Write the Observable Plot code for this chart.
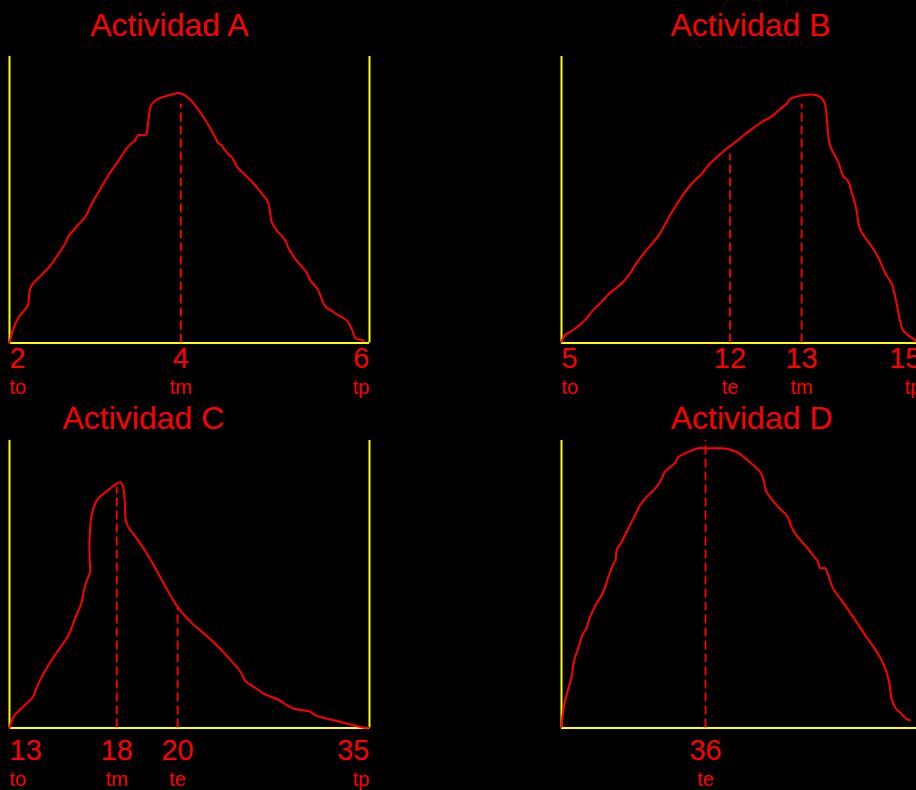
<!DOCTYPE html>
<html>
<head>
<meta charset="utf-8">
<script src="https://cdn.jsdelivr.net/npm/d3@7"></script>
<script src="https://cdn.jsdelivr.net/npm/@observablehq/plot@0.6"></script>
<style>
html, body { margin: 0; padding: 0; background: #000; width: 916px; height: 790px; overflow: hidden; }
#root { position: relative; width: 916px; height: 790px; overflow: hidden; }
#root svg { position: absolute; }
</style>
</head>
<body>
<div id="root"></div>
<script>
// ---------- DATA (u = position across the activity span, 0..100; h = relative height, 0..100) ----------
const titles = ["Actividad A", "Actividad B", "Actividad C", "Actividad D"];

// Actividad A
const aU = [0, 0.9, 2.3, 3.7, 5.1, 5.6, 6.5, 8.8, 11.4, 13.9, 15.7, 16.2, 18.5, 21.3, 22.6, 25.0, 27.7, 30.0, 32.4, 33.7, 34.8, 35.6, 36.0, 37.9, 38.4, 39.1, 39.7, 41.1, 43.0, 45.3, 46.9, 48.1, 49.5, 51.3, 53.6, 55.9, 57.6, 58.0, 58.9, 59.6, 61.0, 61.7, 63.3, 65.2, 67.9, 69.8, 71.6, 72.4, 72.7, 73.9, 76.5, 77.6, 79.0, 80.9, 82.7, 83.6, 85.5, 87.3, 88.3, 89.2, 90.6, 93.8, 95.2, 96.1, 97.5, 98.4];
const aH = [0, 4.4, 8.5, 10.8, 13.1, 18.4, 20.7, 23.6, 27.1, 31.7, 35.2, 36.9, 40.4, 44.5, 48.0, 53.2, 59.0, 63.1, 67.7, 69.5, 70.6, 72.4, 72.6, 72.7, 75.8, 82.2, 83.6, 85.1, 86.0, 86.8, 87.3, 86.9, 85.7, 83.4, 79.3, 74.7, 70.6, 69.7, 69.1, 67.7, 65.7, 65.0, 61.3, 59.0, 55.5, 52.6, 49.7, 45.6, 42.7, 39.8, 36.0, 32.9, 30.0, 27.1, 24.2, 21.8, 18.9, 13.7, 12.0, 11.6, 10.2, 7.7, 4.4, 1.7, 1.2, 0.7];
const aTickU = [0, 47.6, 100];
const aTickValue = ["2", "4", "6"];
const aTickName = ["to", "tm", "tp"];
const aMarkU = [47.6];
const aMarkH = [83.4];

// Actividad B
const bU = [0, 0.9, 2.3, 4.6, 6.9, 8.3, 10.6, 13.4, 15.3, 17.1, 19.0, 20.4, 22.2, 24.1, 25.5, 27.3, 30.1, 32.4, 33.8, 36.1, 38.9, 40.7, 43.1, 45.8, 48.6, 50.5, 53.2, 56.0, 58.3, 59.7, 61.6, 62.5, 63.4, 65.3, 67.6, 70.8, 72.2, 73.2, 73.6, 73.9, 74.3, 75.0, 76.9, 78.2, 79.6, 80.6, 81.9, 82.4, 82.9, 84.3, 86.6, 88.4, 89.8, 91.7, 93.1, 94.0, 94.9, 96.3, 97.7, 98.6];
const bH = [0.4, 2.7, 3.8, 5.8, 8.5, 10.8, 13.7, 17.4, 19.3, 21.3, 24.2, 27.1, 30.2, 33.2, 35.2, 38.1, 44.5, 49.1, 51.8, 55.5, 59.0, 61.9, 64.8, 67.7, 70.4, 72.4, 75.0, 77.4, 79.0, 80.5, 82.5, 83.4, 85.1, 86.0, 86.6, 86.5, 85.5, 83.4, 79.9, 75.3, 70.6, 67.7, 63.1, 58.4, 56.5, 52.6, 46.8, 42.7, 39.8, 36.9, 32.9, 28.8, 24.7, 20.7, 13.7, 7.9, 4.4, 2.7, 1.5, 0.4];
const bTickU = [0, 46.8, 66.7, 100];
const bTickValue = ["5", "12", "13", "15"];
const bTickName = ["to", "te", "tm", "tp"];
const bMarkU = [46.8, 66.7];
const bMarkH = [66.0, 83.4];

// Actividad C
const cU = [0, 0.5, 1.4, 3.2, 6.5, 7.4, 9.2, 11.6, 13.9, 16.6, 18.0, 19.9, 20.8, 21.5, 22.4, 22.3, 22.2, 22.4, 22.8, 23.6, 24.5, 25.9, 27.3, 28.7, 30.8, 31.4, 31.9, 32.1, 32.4, 33.3, 34.7, 37.0, 39.3, 41.6, 43.9, 46.7, 49.0, 50.8, 54.1, 57.8, 61.5, 64.2, 65.6, 67.9, 70.7, 74.4, 77.2, 79.0, 81.8, 83.6, 85.0, 88.3, 92.0, 95.7, 98.9, 99.8];
const cH = [0, 2.1, 4.4, 6.7, 10.8, 13.7, 18.3, 23.5, 27.6, 32.8, 37.4, 43.2, 48.4, 51.3, 54.2, 57.7, 63.5, 69.3, 73.9, 77.4, 79.7, 81.2, 82.6, 84.1, 85.5, 84.4, 80.9, 76.3, 71.6, 69.3, 67.0, 62.9, 58.3, 53.1, 47.9, 42.1, 38.6, 36.3, 32.8, 28.5, 23.5, 19.5, 16.2, 14.3, 11.9, 10.0, 7.9, 6.7, 6.1, 5.6, 4.4, 3.2, 2.1, 0.9, 0, 0.2];
const cTickU = [0, 29.8, 46.7, 100];
const cTickValue = ["13", "18", "20", "35"];
const cTickName = ["to", "tm", "te", "tp"];
const cMarkU = [29.8, 46.7];
const cMarkH = [83.8, 42.1];

// Actividad D
const dU = [0, 0.3, 0.9, 1.9, 2.8, 3.4, 4.6, 6.0, 6.9, 7.9, 9.7, 11.6, 13.0, 14.4, 15.0, 15.3, 16.7, 18.5, 20.4, 21.8, 23.6, 25.5, 27.3, 28.7, 30.1, 31.5, 32.4, 34.7, 38.0, 40.3, 44.0, 46.8, 49.1, 51.4, 53.2, 55.1, 56.0, 56.8, 58.3, 60.6, 62.7, 63.9, 65.3, 68.1, 69.9, 71.3, 71.8, 73.2, 74.1, 75.5, 77.8, 80.1, 82.9, 84.7, 87.0, 88.4, 89.8, 91.0, 91.7, 92.6, 94.4, 95.8, 96.8];
const dH = [0.4, 4.4, 9.0, 13.7, 17.7, 22.9, 27.6, 32.8, 34.5, 38.6, 43.2, 47.3, 52.5, 57.1, 58.3, 61.8, 64.7, 69.3, 73.9, 77.4, 80.3, 82.6, 85.5, 89.0, 90.7, 92.1, 94.2, 95.7, 97.3, 97.3, 97.3, 96.9, 95.7, 93.4, 91.5, 89.2, 86.9, 82.6, 79.7, 76.3, 73.7, 69.9, 67.0, 62.9, 60.0, 57.7, 55.6, 55.6, 53.1, 48.4, 44.4, 40.3, 35.1, 31.6, 27.6, 24.7, 21.2, 16.0, 10.2, 7.3, 5.0, 3.2, 2.7];
const dTickU = [40];
const dTickValue = ["36"];
const dTickName = ["te"];
const dMarkU = [40];
const dMarkH = [100];

// ---------- LAYOUT ----------
const RED = "#ff0000", YELLOW = "#ffff00";
const FONT = "'Liberation Sans', Arial, Helvetica, sans-serif";
const mL = 20, mR = 20, mT = 60, mB = 75, frameW = 360;

const panels = [
  {title: titles[0], U: aU, H: aH, tickU: aTickU, tickV: aTickValue, tickN: aTickName, markU: aMarkU, markH: aMarkH,
   left: 8.5, top: 56, fh: 286.5, titleU: 44.4, titleDy: -21, numDy: 25, nameDy: 51},
  {title: titles[1], U: bU, H: bH, tickU: bTickU, tickV: bTickValue, tickN: bTickName, markU: bMarkU, markH: bMarkH,
   left: 561, top: 56, fh: 286.5, titleU: 52.5, titleDy: -21, numDy: 25, nameDy: 51},
  {title: titles[2], U: cU, H: cH, tickU: cTickU, tickV: cTickValue, tickN: cTickName, markU: cMarkU, markH: cMarkH,
   left: 8.5, top: 440, fh: 287.5, titleU: 37.2, titleDy: -12, numDy: 32, nameDy: 58},
  {title: titles[3], U: dU, H: dH, tickU: dTickU, tickV: dTickValue, tickN: dTickName, markU: dMarkU, markH: dMarkH,
   left: 561, top: 440, fh: 287.5, titleU: 52.8, titleDy: -12, numDy: 32, nameDy: 58}
];

const root = document.getElementById("root");

for (const p of panels) {
  const curve = p.U.map((u, i) => ({u, h: p.H[i]}));
  const ticks = p.tickU.map((u, i) => ({u, v: p.tickV[i], n: p.tickN[i]}));
  const marks = p.markU.map((u, i) => ({u, h: p.markH[i]}));
  const startT = ticks.filter(t => t.u === 0);
  const endT = ticks.filter(t => t.u === 100);
  const midT = ticks.filter(t => t.u !== 0 && t.u !== 100);

  const labelMarks = [];
  for (const [arr, anchor] of [[startT, "start"], [midT, "middle"], [endT, "end"]]) {
    labelMarks.push(Plot.text(arr, {x: "u", y: 0, text: "v", fill: RED, fontSize: 29, textAnchor: anchor, lineAnchor: "bottom", dy: p.numDy}));
    labelMarks.push(Plot.text(arr, {x: "u", y: 0, text: "n", fill: RED, fontSize: 20, textAnchor: anchor, lineAnchor: "bottom", dy: p.nameDy}));
  }

  const chart = Plot.plot({
    width: mL + frameW + mR,
    height: mT + p.fh + mB,
    marginLeft: mL, marginRight: mR, marginTop: mT, marginBottom: mB,
    x: {domain: [0, 100], axis: null},
    y: {domain: [0, 100], axis: null},
    style: {background: "transparent", fontFamily: FONT, overflow: "visible"},
    marks: [
      Plot.ruleX([0, 100], {y1: 0, y2: 100, stroke: YELLOW, strokeWidth: 2}),
      Plot.ruleY([0], {stroke: YELLOW, strokeWidth: 2}),
      Plot.ruleX(marks, {x: "u", y1: 0, y2: "h", stroke: RED, strokeWidth: 1.8, strokeDasharray: "9,4"}),
      Plot.line(curve, {x: "u", y: "h", stroke: RED, strokeWidth: 2, curve: "catmull-rom"}),
      ...labelMarks,
      Plot.text([p.title], {x: () => p.titleU, frameAnchor: "top", text: d => d, fill: RED, fontSize: 32, textAnchor: "middle", lineAnchor: "bottom", dy: p.titleDy})
    ]
  });
  chart.style.left = (p.left - mL) + "px";
  chart.style.top = (p.top - mT) + "px";
  root.appendChild(chart);
}
</script>
</body>
</html>
